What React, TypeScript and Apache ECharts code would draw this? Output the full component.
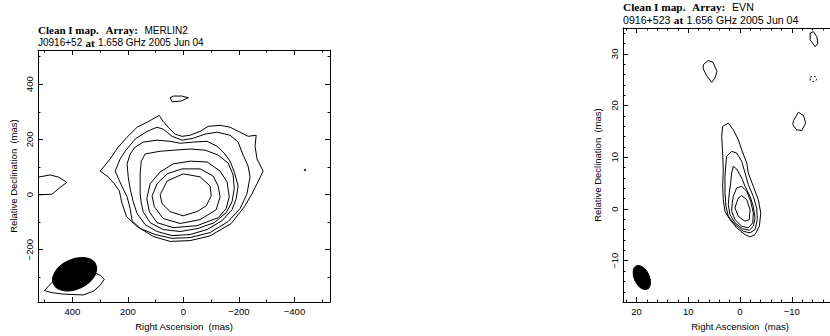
import React, { useEffect, useRef } from "react";
import * as echarts from "echarts";

// ---------- MERLIN2 panel (mas) ----------
const merlinC1 = [[300,85],[264,129],[235,172],[203,208],[167,244],[131,262],[87,287],[73,265],[55,244],[30,219],[5,211],[-24,215],[-60,229],[-89,247],[-132,251],[-168,244],[-204,226],[-233,211],[-262,215],[-258,175],[-265,129],[-287,85],[-265,39],[-247,3],[-220,-44],[-172,-105],[-96,-150],[-24,-167],[48,-170],[109,-152],[167,-116],[205,-80],[221,-33],[231,13],[249,39],[271,64]];
const merlinC2 = [[246,85],[228,129],[210,157],[174,201],[131,229],[95,244],[73,237],[41,211],[5,197],[-35,204],[-78,219],[-121,226],[-168,215],[-197,190],[-215,143],[-233,103],[-240,64],[-229,3],[-204,-51],[-161,-98],[-96,-138],[-24,-156],[41,-159],[102,-145],[156,-123],[185,-95],[192,-51],[203,-8],[221,28]];
const merlinC3 = [[203,111],[192,147],[174,172],[145,190],[95,197],[48,193],[12,186],[-35,190],[-85,193],[-121,175],[-147,150],[-168,121],[-183,82],[-197,31],[-190,-15],[-175,-55],[-139,-95],[-85,-127],[-24,-145],[41,-149],[95,-134],[138,-109],[167,-69],[181,-26],[192,21],[199,64]];
const merlinC4 = [[156,3],[156,75],[152,121],[138,147],[84,157],[30,161],[-24,165],[-78,161],[-125,143],[-161,114],[-179,71],[-183,21],[-175,-26],[-154,-66],[-111,-102],[-53,-123],[12,-134],[73,-127],[120,-102],[145,-62],[152,-30]];
const merlinC5 = [[132,-15],[120,39],[84,82],[37,111],[-24,121],[-85,118],[-132,85],[-157,46],[-165,-8],[-154,-51],[-125,-84],[-49,-113],[37,-120],[95,-102],[123,-62]];
const merlinC6 = [[113,-5],[95,39],[59,75],[5,93],[-60,93],[-107,67],[-125,31],[-132,-8],[-118,-55],[-60,-91],[12,-105],[73,-87],[105,-44]];
const merlinC7 = [[84,-1],[59,49],[1,75],[-60,64],[-96,31],[-100,-5],[-82,-41],[-49,-62],[1,-77],[48,-62],[77,-33]];
const merlinTop = [[48,351],[36,357],[6,357],[-18,351],[8,339],[41,336]];
const merlinEdge = [[524,63],[480,71],[450,63],[420,44],[444,26],[474,1],[524,-1]];
const merlinBeamSide = [[501,-348],[473,-318],[440,-300],[372,-268],[318,-285],[300,-293],[285,-307],[300,-329],[325,-351],[361,-364],[433,-361],[473,-356]];
const merlinDot = [[-438, 89]];
// beam: [RA, Dec, major, minor, angle on screen (deg, ccw)]
const merlinBeam = [[392, -289, 168, 108, 25]];

// ---------- EVN panel (mas) ----------
const evnC1 = [[3.35,15.97],[2.26,16.62],[1.30,15.33],[0.33,13.40],[-0.33,11.47],[-1.30,8.90],[-1.61,6.97],[-2.57,4.38],[-3.54,1.81],[-4.01,-0.75],[-3.74,-3.34],[-2.90,-4.94],[-1.94,-5.39],[-0.97,-4.94],[0.64,-3.65],[1.94,-2.05],[2.90,-0.44],[3.23,1.81],[3.35,4.38],[3.23,7.61],[3.35,10.83],[3.54,14.03]];
const evnC2 = [[2.57,10.17],[1.61,11.14],[0.64,10.83],[-0.33,9.21],[-0.97,6.97],[-1.61,4.71],[-2.57,2.45],[-3.23,0.21],[-3.35,-2.05],[-2.90,-3.98],[-1.94,-4.61],[-0.64,-4.31],[0.97,-3.01],[2.26,-1.41],[2.71,0.52],[2.90,3.11],[2.90,6.31],[2.71,8.90]];
const evnC3 = [[1.61,6.97],[1.30,8.24],[0.64,7.74],[-0.33,6.00],[-0.97,4.38],[-1.94,2.45],[-2.57,0.52],[-2.90,-1.72],[-2.57,-3.34],[-1.80,-4.11],[-0.52,-3.84],[0.97,-2.68],[1.94,-1.08],[2.26,0.85],[2.07,3.11],[1.80,5.04]];
const evnC4 = [[1.30,2.45],[0.64,4.07],[-0.33,4.38],[-1.30,3.42],[-2.07,1.49],[-2.57,-0.75],[-2.46,-2.68],[-1.61,-3.65],[-0.33,-3.34],[0.97,-2.05],[1.61,-0.44],[1.49,1.18]];
const evnC5 = [[0.97,0.21],[0.33,2.14],[-0.33,2.59],[-1.30,1.81],[-1.94,-0.12],[-1.80,-2.05],[-0.97,-2.37],[0.33,-1.41]];
const evnIslandA = [[-13.55,34.0],[-14.19,34.3],[-14.84,33.3],[-15.04,32.07],[-14.52,31.4],[-13.55,32.7]];
const evnIslandB = [[7.10,27.9],[6.19,28.7],[5.23,28.4],[4.45,26.6],[4.84,25.3],[5.48,24.5],[6.44,25.75],[7.10,27.1]];
const evnIslandC = [[-10.32,17.07],[-11.28,18.7],[-12.25,18.1],[-12.68,16.6],[-11.94,15.2],[-10.93,15.3],[-10.2,16.3]];
const evnNegative = [[-13.55,25.5],[-14.13,25.7],[-14.71,25.5],[-14.8,25.0],[-14.13,24.6],[-13.55,24.9]];
const evnBeam = [[18.97, -13.24, 4.94, 2.9, 115]];

// ---------- ticks ----------
const merlinXMajor = [-400, -200, 0, 200, 400];
const merlinXMinor = [-500, -400, -300, -200, -100, 0, 100, 200, 300, 400, 500];
const merlinYMajor = [-200, 0, 200, 400];
const merlinYMinor = [-300, -200, -100, 0, 100, 200, 300, 400, 500];
const evnXMajor = [-20, -10, 0, 10, 20];
const evnXLabels = [-10, 0, 10, 20];
const evnXMinor = [-22,-20,-18,-16,-14,-12,-10,-8,-6,-4,-2,0,2,4,6,8,10,12,14,16,18,20,22];
const evnYMajor = [-10, 0, 10, 20, 30];
const evnYMinor = [-18,-16,-14,-12,-10,-8,-6,-4,-2,0,2,4,6,8,10,12,14,16,18,20,22,24,26,28,30,32,34];

const FONT = "Liberation Sans";
const BLACK = "#000";
const fmt = (v: number) => String(v).replace("-", "\u2212");

function xAxes(grid: number, min: number, max: number, major: number[], minor: number[], labels: number[], name: string, margin: number, nameGap: number) {
  const line = { show: true, onZero: false, lineStyle: { color: BLACK, width: 1 } };
  const base = { type: "value", gridIndex: grid, min, max, inverse: true, splitLine: { show: false }, minorTick: { show: false } };
  const tick = (vals: number[], len: number) => ({ show: true, inside: true, length: len, customValues: vals, lineStyle: { color: BLACK, width: 1 } });
  return [
    { ...base, position: "bottom", axisLine: line, axisTick: tick(major, 5),
      axisLabel: { show: true, customValues: labels, formatter: fmt, margin, color: BLACK, fontSize: 9.5, fontFamily: FONT },
      name, nameLocation: "middle", nameGap, nameTextStyle: { color: BLACK, fontSize: 9.5, fontFamily: FONT } },
    { ...base, position: "bottom", axisLine: { show: false, onZero: false }, axisTick: tick(minor, 2.5), axisLabel: { show: false } },
    { ...base, position: "top", axisLine: line, axisTick: tick(major, 5), axisLabel: { show: false } },
    { ...base, position: "top", axisLine: { show: false, onZero: false }, axisTick: tick(minor, 2.5), axisLabel: { show: false } },
  ];
}

function yAxes(grid: number, min: number, max: number, major: number[], minor: number[], labels: number[], name: string, margin: number, nameGap: number) {
  const line = { show: true, onZero: false, lineStyle: { color: BLACK, width: 1 } };
  const base = { type: "value", gridIndex: grid, min, max, splitLine: { show: false }, minorTick: { show: false } };
  const tick = (vals: number[], len: number) => ({ show: true, inside: true, length: len, customValues: vals, lineStyle: { color: BLACK, width: 1 } });
  return [
    { ...base, position: "left", axisLine: line, axisTick: tick(major, 5),
      axisLabel: { show: true, customValues: labels, formatter: fmt, margin, rotate: 90, color: BLACK, fontSize: 9.5, fontFamily: FONT },
      name, nameLocation: "middle", nameGap, nameRotate: 90, nameTextStyle: { color: BLACK, fontSize: 9.5, fontFamily: FONT } },
    { ...base, position: "left", axisLine: { show: false, onZero: false }, axisTick: tick(minor, 2.5), axisLabel: { show: false } },
    { ...base, position: "right", axisLine: line, axisTick: tick(major, 5), axisLabel: { show: false } },
    { ...base, position: "right", axisLine: { show: false, onZero: false }, axisTick: tick(minor, 2.5), axisLabel: { show: false } },
  ];
}

function contour(pts: number[][], axis: number, closed = true, dashed = false) {
  return {
    type: "line",
    xAxisIndex: axis,
    yAxisIndex: axis,
    data: closed ? [...pts, pts[0]] : pts,
    showSymbol: false,
    symbol: "none",
    smooth: false,
    silent: true,
    lineStyle: { color: BLACK, width: 1, type: dashed ? [2, 2] : "solid" },
    z: 2,
  };
}

function beam(data: number[][], axis: number) {
  return {
    type: "custom",
    xAxisIndex: axis,
    yAxisIndex: axis,
    data,
    silent: true,
    z: 5,
    renderItem: (_p: any, api: any) => {
      const c = api.coord([api.value(0), api.value(1)]);
      const w = api.size([api.value(2), 0])[0];
      const h = api.size([0, api.value(3)])[1];
      return {
        type: "ellipse",
        x: c[0],
        y: c[1],
        rotation: (api.value(4) * Math.PI) / 180,
        shape: { cx: 0, cy: 0, rx: w / 2, ry: h / 2 },
        style: { fill: BLACK, stroke: BLACK, lineWidth: 1 },
      };
    },
  };
}

const titleRichLeft = {
  b: { fontFamily: "Liberation Serif", fontWeight: "bold", fontSize: 11, fill: BLACK },
  n: { fontFamily: FONT, fontSize: 10, fill: BLACK },
};
const titleRichRight = {
  b: { fontFamily: "Liberation Serif", fontWeight: "bold", fontSize: 11.3, fill: BLACK },
  n: { fontFamily: FONT, fontSize: 10.6, fill: BLACK },
};

export default function App() {
  const ref = useRef<HTMLDivElement>(null);
  useEffect(() => {
    document.body.style.margin = "0";
    document.body.style.overflow = "hidden";
    document.documentElement.style.overflow = "hidden";
    const chart = echarts.init(ref.current!, null, { renderer: "svg" });
    const option: any = {
      animation: false,
      backgroundColor: "#fff",
      grid: [
        { left: 38, top: 50, width: 292, height: 254 },
        { left: 623, top: 28, width: 234, height: 275 },
      ],
      xAxis: [
        ...xAxes(0, -528, 524, merlinXMajor, merlinXMinor, merlinXMajor, "Right Ascension  (mas)", 4, 16),
        ...xAxes(1, -22.6, 22.6, evnXMajor, evnXMinor, evnXLabels, "Right Ascension  (mas)", 4, 16),
      ],
      yAxis: [
        ...yAxes(0, -390, 524, merlinYMajor, merlinYMinor, merlinYMajor, "Relative Declination  (mas)", 4, 20),
        ...yAxes(1, -18, 35, evnYMajor, evnYMinor, evnYMajor, "Relative Declination  (mas)", 4, 21),
      ],
      graphic: [
        { type: "text", x: 38, y: 30.2, style: { text: "{b|Clean I map.}  {b|Array:}  {n|MERLIN2}", rich: titleRichLeft, verticalAlign: "middle" } },
        { type: "text", x: 38, y: 42.5, style: { text: "{n|J0916+52} {b|at} {n|1.658 GHz 2005 Jun 04}", rich: titleRichLeft, verticalAlign: "middle" } },
        { type: "text", x: 623, y: 7, style: { text: "{b|Clean I map.}  {b|Array:}  {n|EVN}", rich: titleRichRight, verticalAlign: "middle" } },
        { type: "text", x: 623, y: 20.2, style: { text: "{n|0916+523} {b|at} {n|1.656 GHz 2005 Jun 04}", rich: titleRichRight, verticalAlign: "middle" } },
      ],
      series: [
        contour(merlinC1, 0), contour(merlinC2, 0), contour(merlinC3, 0), contour(merlinC4, 0),
        contour(merlinC5, 0), contour(merlinC6, 0), contour(merlinC7, 0), contour(merlinTop, 0),
        contour(merlinEdge, 0, false), contour(merlinBeamSide, 0),
        { type: "scatter", xAxisIndex: 0, yAxisIndex: 0, data: merlinDot, symbol: "circle", symbolSize: 2.5, itemStyle: { color: BLACK }, silent: true },
        beam(merlinBeam, 0),
        contour(evnC1, 4), contour(evnC2, 4), contour(evnC3, 4), contour(evnC4, 4), contour(evnC5, 4),
        contour(evnIslandA, 4), contour(evnIslandB, 4), contour(evnIslandC, 4), contour(evnNegative, 4, true, true),
        beam(evnBeam, 4),
      ],
    };
    chart.setOption(option);
    return () => chart.dispose();
  }, []);
  return <div ref={ref} style={{ width: 870, height: 336, position: "absolute", left: 0, top: 0 }} />;
}
